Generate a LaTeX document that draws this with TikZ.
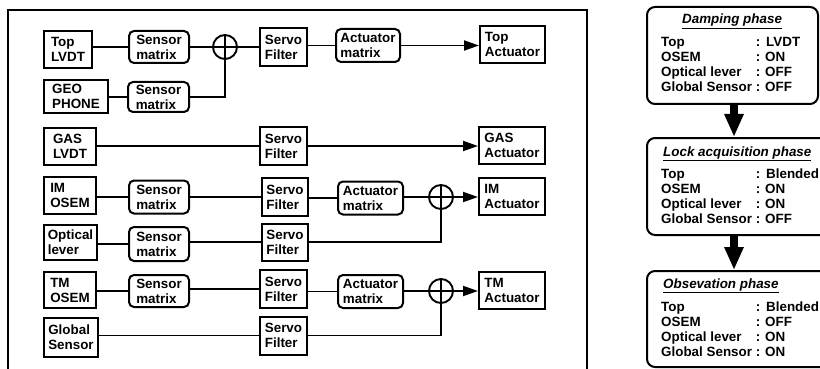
\documentclass[tikz,border=0pt]{standalone}
\usepackage{fontspec}
\setmainfont{Liberation Sans}
\usetikzlibrary{arrows.meta}
\begin{document}
\begin{tikzpicture}[x=1pt,y=-1pt,
  every node/.style={font=\fontsize{13.4}{15}\selectfont\bfseries},
  sq/.style={draw, line width=2pt, align=left, inner sep=0pt},
  rd/.style={sq, rounded corners=5pt},
  sumn/.style={draw, circle, line width=1.9pt, minimum size=24pt, inner sep=0pt},
  ln/.style={line width=1.9pt},
  arr/.style={ln, -{Triangle[length=15pt,width=10pt]}},
  phase/.style={draw, line width=2pt, rounded corners=8pt, inner sep=0pt},
  bigarr/.style={line width=8pt, -{Triangle[length=23pt,width=18pt]}},
  txt/.style={anchor=base west, inner sep=0pt},
]
\useasboundingbox (0,0) rectangle (820,369);

% frame
\draw[line width=2pt] (8,380) -- (8,10) -- (587,10) -- (587,380);

% row 1 / 2
\node[sq, minimum width=48, minimum height=37] (toplvdt) at (68,49.5) {Top\\LVDT};
\node[rd, minimum width=60, minimum height=32] (sm1) at (159,47) {Sensor\\matrix};
\node[sumn] (sum1) at (225,47) {};
\node[sq, minimum width=47, minimum height=38] (sf1) at (283.5,47) {Servo\\Filter};
\node[rd, minimum width=64, minimum height=33] (am1) at (368,45.5) {Actuator\\matrix};
\node[sq, minimum width=65, minimum height=37] (ta) at (512.5,44.5) {Top\\Actuator};
\node[sq, minimum width=64, minimum height=33] (geo) at (76,96.5) {GEO\\PHONE};
\node[rd, minimum width=61, minimum height=30] (sm2) at (158.5,97) {Sensor\\matrix};

\draw[ln] (toplvdt.east |- sm1) -- (sm1);
\draw[ln] (sm1) -- (sum1) -- (sf1);
\draw[ln] (sf1.east |- am1) -- (am1);
\draw[arr] (am1) -- (am1 -| ta.west);
\draw[ln] (geo.east |- sm2) -- (sm2);
\draw[ln] (sm2) -| (sum1);
\draw[ln] (sum1.north) -- (sum1.south) (sum1.west) -- (sum1.east);

% GAS row
\node[sq, minimum width=52, minimum height=37] (gas) at (70,146.5) {GAS\\LVDT};
\node[sq, minimum width=47, minimum height=38] (sf2) at (283.5,146) {Servo\\Filter};
\node[sq, minimum width=66, minimum height=37] (ga) at (512,145.5) {GAS\\Actuator};
\draw[ln] (gas.east |- sf2) -- (sf2);
\draw[arr] (sf2) -- (sf2 -| ga.west);

% IM row
\node[sq, minimum width=52, minimum height=37] (im) at (70,195.5) {IM\\OSEM};
\node[rd, minimum width=60, minimum height=33] (sm3) at (159,197) {Sensor\\matrix};
\node[sq, minimum width=46, minimum height=38] (sf3) at (285,197) {Servo\\Filter};
\node[rd, minimum width=65, minimum height=33] (am3) at (370.5,198) {Actuator\\matrix};
\node[sumn] (sum3) at (441,197) {};
\node[sq, minimum width=66, minimum height=37] (ia) at (512,196.5) {IM\\Actuator};
\draw[ln] (im.east |- sm3) -- (sm3) -- (sf3);
\draw[ln] (sf3.east |- am3) -- (am3);
\draw[ln] (am3.east |- sum3) -- (sum3);
\draw[arr] (sum3) -- (sum3 -| ia.west);
\draw[ln] (sum3.north) -- (sum3.south) (sum3.west) -- (sum3.east);

% Optical lever row
\node[sq, minimum width=53, minimum height=35] (opt) at (70.5,242.5) {Optical\\lever};
\node[rd, minimum width=60, minimum height=34] (sm4) at (159,244) {Sensor\\matrix};
\node[sq, minimum width=46, minimum height=37] (sf4) at (285,242) {Servo\\Filter};
\draw[ln] (opt.east |- sm4) -- (sm4);
\draw[ln] (sm4.east |- sf4) -- (sf4);
\draw[ln] (sf4) -| (sum3);

% TM row
\node[sq, minimum width=52, minimum height=36] (tm) at (70,290) {TM\\OSEM};
\node[rd, minimum width=60, minimum height=32] (sm5) at (159,291) {Sensor\\matrix};
\node[sq, minimum width=47, minimum height=38] (sf5) at (283.5,289) {Servo\\Filter};
\node[rd, minimum width=65, minimum height=33] (am5) at (370.5,291.5) {Actuator\\matrix};
\node[sumn] (sum5) at (441,291) {};
\node[sq, minimum width=66, minimum height=37] (tma) at (512,290.5) {TM\\Actuator};
\draw[ln] (tm.east |- sm5) -- (sm5);
\draw[ln] (sm5.east |- sf5) -- (sf5);
\draw[ln] (sf5.east |- am5) -- (am5);
\draw[ln] (am5.east |- sum5) -- (sum5);
\draw[arr] (sum5) -- (sum5 -| tma.west);
\draw[ln] (sum5.north) -- (sum5.south) (sum5.west) -- (sum5.east);

% Global sensor row
\node[sq, minimum width=54, minimum height=39] (gs) at (71,337.5) {Global\\Sensor};
\node[sq, minimum width=47, minimum height=38] (sf6) at (283.5,335.5) {Servo\\Filter};
\draw[ln] (gs.east |- sf6) -- (sf6);
\draw[ln] (sf6) -| (sum5);

% phases
\node[phase, minimum width=171, minimum height=97] (damp) at (732.5,55.5) {};
\node[phase, minimum width=193, minimum height=97] (lock) at (743.5,186.5) {};
\node[phase, minimum width=193, minimum height=96] (obs) at (743.5,319) {};
\coordinate (ax) at (734,0);
\draw[bigarr] (damp.south -| ax) -- (lock.north -| ax);
\draw[bigarr] (lock.south -| ax) -- (obs.north -| ax);

\node[txt] (dt) at (682,24) {\itshape\underline{Damping phase}};
\node[txt] (dtab) at (661,46.7) {\begin{tabular}[t]{@{}l@{\ }l@{}}
Top & :\ \,LVDT\\
OSEM & : ON\\
Optical lever & : OFF\\
Global Sensor & : OFF
\end{tabular}};

\node[txt] (lt) at (663,156) {\itshape\underline{Lock acquisition phase}};
\node[txt] (ltab) at (661,178.3) {\begin{tabular}[t]{@{}l@{\ }l@{}}
Top & :\ \,Blended\\
OSEM & : ON\\
Optical lever & : ON\\
Global Sensor & : OFF
\end{tabular}};

\node[txt] (ot) at (663,288) {\itshape\underline{Obsevation phase}};
\node[txt] (otab) at (661,311) {\begin{tabular}[t]{@{}l@{\ }l@{}}
Top & :\ \,Blended\\
OSEM & : OFF\\
Optical lever & : ON\\
Global Sensor & : ON
\end{tabular}};
\end{tikzpicture}
\end{document}
